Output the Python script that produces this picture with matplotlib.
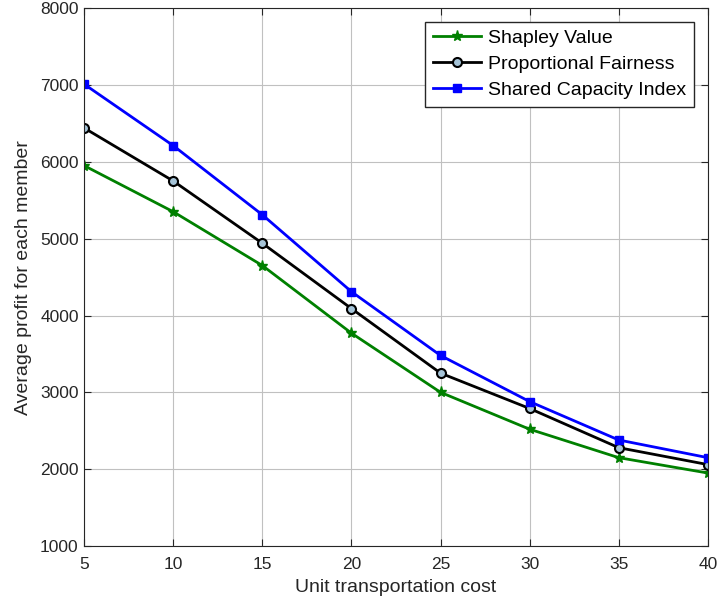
import numpy as np
import matplotlib
matplotlib.use('Agg')
import matplotlib.pyplot as plt

plt.rcParams['font.family'] = ['Liberation Sans', 'DejaVu Sans']

cost = [5, 10, 15, 20, 25, 30, 35, 40]
shapley = [5950, 5350, 4650, 3770, 3000, 2520, 2150, 1950]
proportional = [6440, 5750, 4940, 4090, 3250, 2790, 2280, 2060]
shared_capacity = [7010, 6210, 5310, 4310, 3480, 2880, 2380, 2150]

fig = plt.figure(figsize=(7.2, 6.05), dpi=100)
ax = fig.add_axes([0.117, 0.0975, 0.866, 0.889])

ax.plot(cost, shapley, color='#008000', lw=2, marker='*', ms=8,
        mfc='#008000', mec='#008000', label='Shapley Value')
ax.plot(cost, proportional, color='black', lw=2, marker='o', ms=6.5,
        mfc='#a6c4d8', mec='black', mew=1.5, label='Proportional Fairness')
ax.plot(cost, shared_capacity, color='#0000ff', lw=2, marker='s', ms=6,
        mfc='#0000ff', mec='#0000ff', label='Shared Capacity Index')

ax.set_xlim(5, 40)
ax.set_ylim(1000, 8000)
ax.set_xticks(np.arange(5, 41, 5))
ax.set_yticks(np.arange(1000, 8001, 1000))
ax.grid(True, color='#c0c0c0', lw=0.8)
ax.tick_params(labelsize=12.5, direction='in', length=5, colors='#262626',
               top=True, right=True, pad=4)
ax.tick_params(axis='x', pad=8)
for s in ax.spines.values():
    s.set_color('#262626')
ax.set_xlabel('Unit transportation cost', fontsize=14, color='#262626', labelpad=5)
ax.set_ylabel('Average profit for each member', fontsize=14, color='#262626', labelpad=6)

leg = ax.legend(loc='upper right', fontsize=14, fancybox=False, framealpha=1,
                edgecolor='#262626', handlelength=2.5, borderaxespad=0.7,
                labelspacing=0.42, borderpad=0.4, handletextpad=0.35)
leg.get_frame().set_linewidth(1)

fig.savefig('out.png', dpi=100)
